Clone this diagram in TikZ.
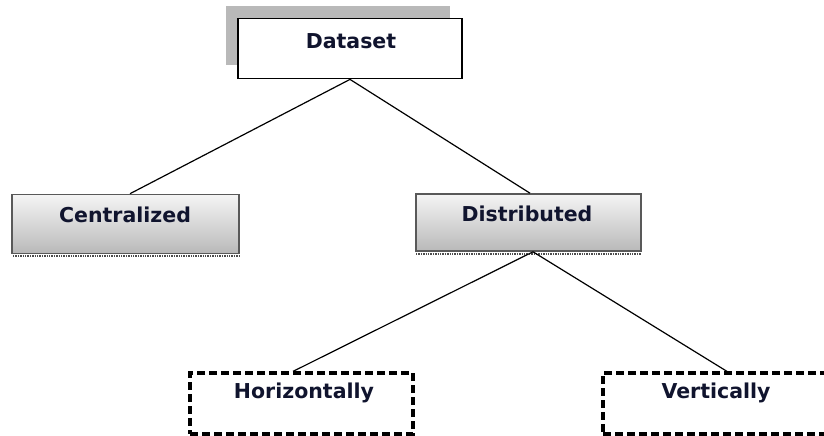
\documentclass[tikz,border=0pt]{standalone}
\usepackage{fontspec}
\setmainfont{DejaVu Sans}
\definecolor{txt}{HTML}{10142E}
\tikzset{
  x=1pt, y=-1pt,
  box/.style={draw, rectangle, inner sep=0pt, line width=1.8pt},
  shadebox/.style={box, draw=gray!70!black, line width=1.6pt, top color=gray!8, bottom color=gray!55},
  dashbox/.style={box, line width=3.2pt, dash pattern=on 8pt off 4pt},
  lbl/.style={inner sep=0pt, font=\bfseries\fontsize{20.5}{23}\selectfont, text=txt},
  conn/.style={line width=1.2pt}
}
\begin{document}
\begin{tikzpicture}
\useasboundingbox (0,0) rectangle (824,436);
\clip (0,0) rectangle (824,436);
% shadow of Dataset
\fill[gray!55] (226,6) rectangle (450,65);
% boxes
\node[box, fill=white, minimum width=224pt, minimum height=60pt] (d) at (350,48.5) {};
\node[lbl] (dt) at (351,41) {Dataset};
\draw[densely dotted, gray!60!black, line width=1.4pt] (13,256) -- (239,256);
\node[shadebox, minimum width=227pt, minimum height=59pt] (c) at (125.5,224) {};
\node[lbl] (ct) at (125,215) {Centralized};
\draw[densely dotted, gray!60!black, line width=1.4pt] (416,254) -- (641,254);
\node[shadebox, minimum width=225pt, minimum height=57pt] (s) at (528.5,222.5) {};
\node[lbl] (st) at (527,214) {Distributed};
\node[dashbox, minimum width=223pt, minimum height=61pt] (h) at (301.5,403.5) {};
\node[lbl] (ht) at (304,393) {Horizontally};
\node[dashbox, minimum width=226pt, minimum height=61pt] (v) at (716,403.5) {};
\node[lbl] (vt) at (716,393) {Vertically};
% connectors
\draw[conn] (d.south) -- ([xshift=4.5pt]c.north);
\draw[conn] (d.south) -- ([xshift=1.5pt]s.north);
\draw[conn] ([xshift=4.5pt]s.south) -- ([xshift=-8.5pt]h.north);
\draw[conn] ([xshift=4.5pt]s.south) -- ([xshift=11pt]v.north);
\end{tikzpicture}
\end{document}
